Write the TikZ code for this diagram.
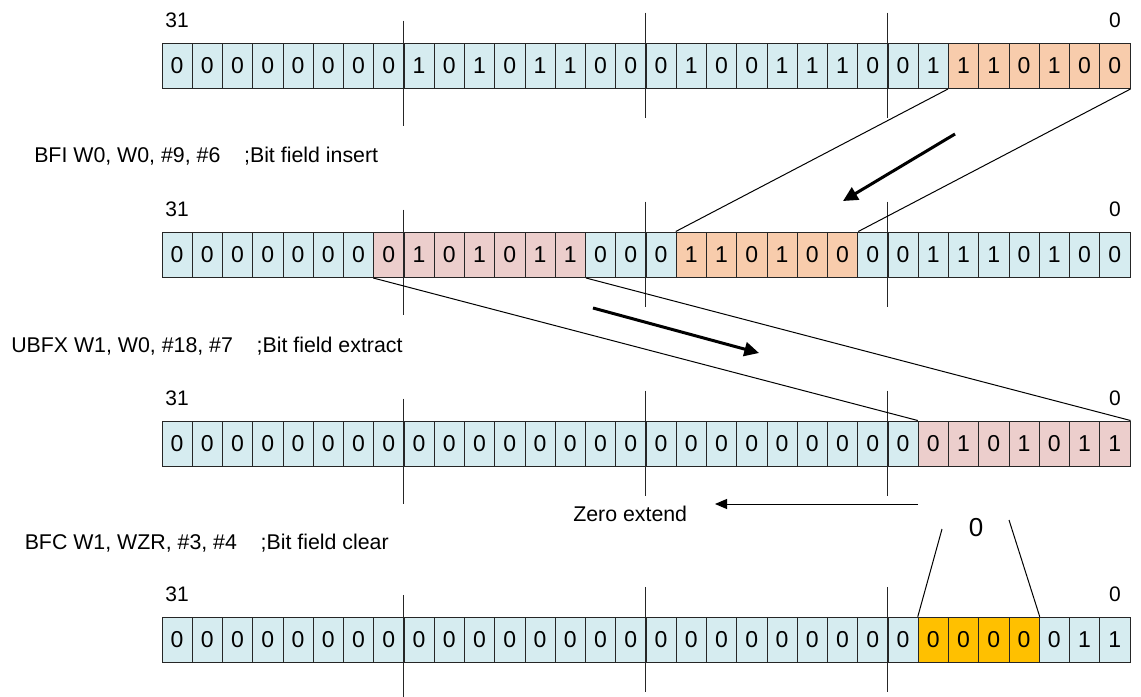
\documentclass[tikz,border=0pt]{standalone}
\usepackage{fontspec}
\setmainfont{Liberation Sans}
\usepackage{tikz}
\usetikzlibrary{arrows.meta}

\definecolor{regblue}{RGB}{214,236,240}
\definecolor{insorange}{RGB}{248,204,172}
\definecolor{extpink}{RGB}{236,206,204}
\definecolor{clrgold}{RGB}{255,192,0}

\tikzset{
  bitcell/.style={draw=black!85, line width=0.75pt, minimum width=22.6875pt,
    minimum height=34.125pt, inner sep=0pt, font=\fontsize{17.25}{19}\selectfont},
  bitnum/.style={inner sep=0pt, font=\fontsize{15.75}{18}\selectfont},
  instr/.style={inner sep=0pt, anchor=base west, font=\fontsize{16}{18}\selectfont},
  tick/.style={draw=black!85, line width=0.75pt},
  link/.style={line width=0.75pt},
  move/.style={line width=2.25pt, -{Triangle[length=11pt,width=10.5pt]}}
}

\begin{document}
\begin{tikzpicture}[x=0.75pt, y=-0.75pt]
    \useasboundingbox (0,0) rectangle (1141,696);

    % W0 before the insert, low six bits marked
    \foreach \b [count=\i from 0] in {0,0,0,0,0,0,0,0,1,0,1,0,1,1,0,0,0,1,0,0,1,1,1,0,0,1,1,1,0,1,0,0} {
        \ifnum\i>25 \def\cellfill{insorange}\else\def\cellfill{regblue}\fi
        \node[bitcell, fill=\cellfill] (orig\i) at ({177.125+30.25*\i}, 65.75) {\b};
    }

    % W0 after BFI
    \foreach \b [count=\i from 0] in {0,0,0,0,0,0,0,0,1,0,1,0,1,1,0,0,0,1,1,0,1,0,0,0,0,1,1,1,0,1,0,0} {
        \ifnum\i<7 \def\cellfill{regblue}\else
          \ifnum\i<14 \def\cellfill{extpink}\else
            \ifnum\i<17 \def\cellfill{regblue}\else
              \ifnum\i<23 \def\cellfill{insorange}\else\def\cellfill{regblue}\fi
            \fi
          \fi
        \fi
        \node[bitcell, fill=\cellfill] (ins\i) at ({177.125+30.25*\i}, 254.75) {\b};
    }

    % W1 after UBFX
    \foreach \b [count=\i from 0] in {0,0,0,0,0,0,0,0,0,0,0,0,0,0,0,0,0,0,0,0,0,0,0,0,0,0,1,0,1,0,1,1} {
        \ifnum\i>24 \def\cellfill{extpink}\else\def\cellfill{regblue}\fi
        \node[bitcell, fill=\cellfill] (ext\i) at ({177.125+30.25*\i}, 443.75) {\b};
    }

    % W1 after BFC
    \foreach \b [count=\i from 0] in {0,0,0,0,0,0,0,0,0,0,0,0,0,0,0,0,0,0,0,0,0,0,0,0,0,0,0,0,0,0,1,1} {
        \def\cellfill{regblue}
        \ifnum\i>24 \ifnum\i<29 \def\cellfill{clrgold}\fi\fi
        \node[bitcell, fill=\cellfill] (clr\i) at ({177.125+30.25*\i}, 640) {\b};
    }

    % Bit numbers and byte ticks on every register
    \foreach \reg in {orig,ins,ext,clr} {
        \node[bitnum] (\reg hi) at ([yshift=16.5pt]\reg0.north) {31};
        \node[bitnum] (\reg lo) at ([yshift=16.5pt]\reg31.north) {0};
        \draw[tick] (\reg8.north west) ++(0,-22) -- ++(0,105);
        \draw[tick] (\reg16.north west) ++(0,-30) -- ++(0,105);
        \draw[tick] (\reg24.north west) ++(0,-30) -- ++(0,105);
    }

    % Instructions
    \node[instr] (bfi) at (34,162.7) {BFI W0, W0, \#9, \#6~~~~;Bit field insert};
    \node[instr] (ubfx) at (11,352.3) {UBFX W1, W0, \#18, \#7~~~~;Bit field extract};
    \node[instr] (bfc) at (24.5,549) {BFC W1, WZR, \#3, \#4~~~~;Bit field clear};

    % Where the fields go
    \draw[link] (orig26.south west) -- (ins17.north west);
    \draw[link] (orig31.south east) -- (ins22.north east);
    \draw[link] (ins7.south west) -- (ext25.north west);
    \draw[link] (ins13.south east) -- (ext31.north east);

    \coordinate (insfrom) at (955,134);
    \coordinate (insto) at (843,201);
    \draw[move] (insfrom) -- (insto);
    \coordinate (extfrom) at (593,308);
    \coordinate (extto) at (759,353);
    \draw[move] (extfrom) -- (extto);

    % Zero extension of the extracted field
    \coordinate (zfrom) at (918,504);
    \coordinate (zto) at (715,504);
    \draw[link, -{Triangle[length=9pt,width=7.5pt]}] (zfrom) -- (zto);
    \node[instr] (zext) at (573,521.5) {Zero extend};

    % Cleared bits
    \node[inner sep=0pt, font=\fontsize{19.5}{22}\selectfont] (zbits) at (976,528) {0};
    \coordinate (zleft) at (942,529);
    \coordinate (zright) at (1009,520);
    \draw[link] (zleft) -- (clr25.north west);
    \draw[link] (zright) -- (clr28.north east);
\end{tikzpicture}
\end{document}
